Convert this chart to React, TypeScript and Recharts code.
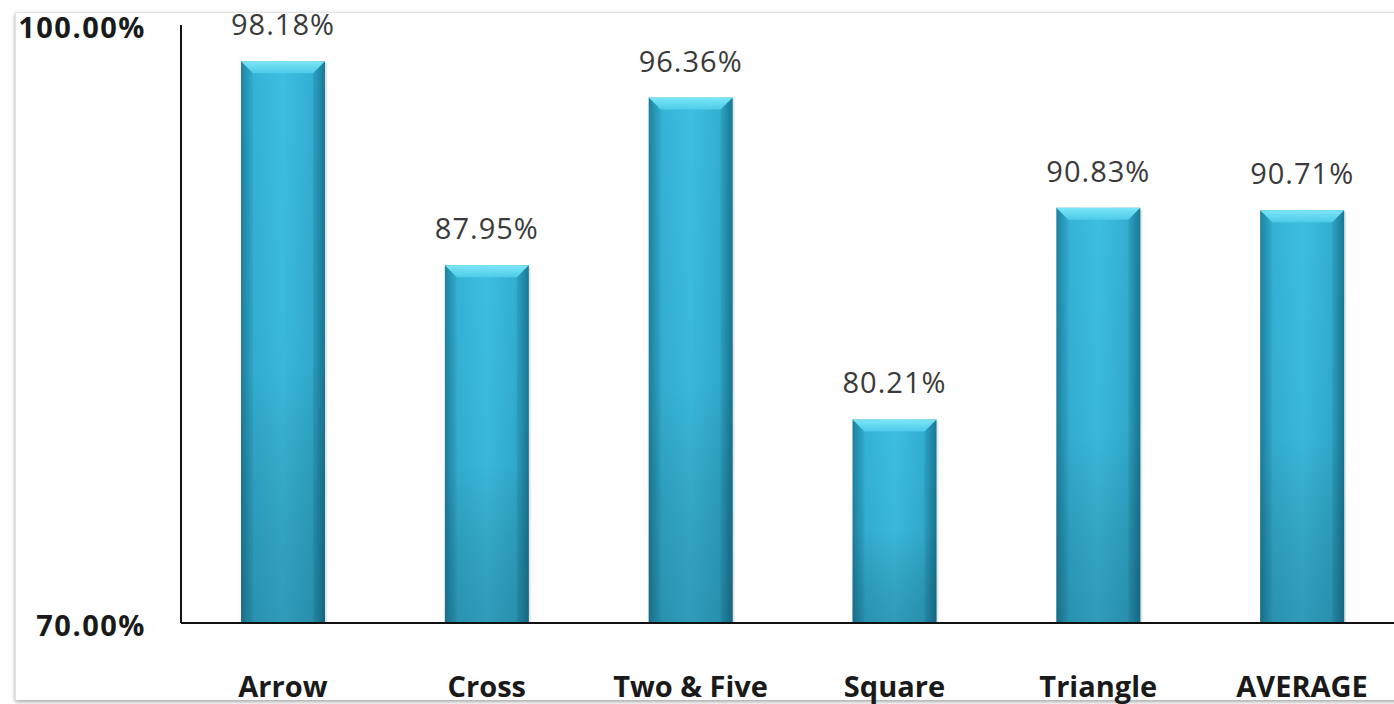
import { Bar, BarChart, XAxis, YAxis, LabelList } from "recharts"

const categories = ["Arrow", "Cross", "Two & Five", "Square", "Triangle", "AVERAGE"]
const accuracy = [98.18, 87.95, 96.36, 80.21, 90.83, 90.71]
const yTicks = [70, 100]

const data = categories.map((name, i) => ({ name, accuracy: accuracy[i] }))

const pct = (v: number) => `${Number(v).toFixed(2)}%`

// bar with a bevelled top, like the old office chart style
function BevelBar(props: any) {
  const { x, y, width, height } = props
  if (!height || height <= 0) return null
  const b = Math.min(12, height / 2)
  return (
    <g>
      <rect x={x + 2} y={y + 2} width={width} height={height - 2} fill="rgba(0,0,0,0.10)" />
      <rect x={x} y={y} width={width} height={height} fill="url(#barSide)" />
      <rect x={x} y={y} width={width} height={height} fill="url(#barShade)" />
      <polygon
        points={`${x},${y} ${x + width},${y} ${x + width - b},${y + b} ${x + b},${y + b}`}
        fill="url(#bevelTop)"
      />
      <polygon points={`${x},${y} ${x + b},${y + b} ${x + b},${y + height} ${x},${y + height}`} fill="rgba(0,40,60,0.05)" />
      <polygon
        points={`${x + width},${y} ${x + width - b},${y + b} ${x + width - b},${y + height} ${x + width},${y + height}`}
        fill="rgba(0,40,60,0.09)"
      />
    </g>
  )
}

export default function App() {
  return (
    <div style={{ position: "absolute", left: 0, top: 0, width: 1394, height: 704, overflow: "hidden", background: "#fff" }}>
      <div
        style={{
          position: "absolute",
          left: 15,
          top: 12,
          width: 1400,
          height: 687,
          borderTop: "1px solid #e2e2e2",
          borderLeft: "1px solid #e2e2e2",
          boxShadow: "0 2px 4px rgba(0,0,0,0.35)",
          background: "#fff",
        }}
      />
      <div style={{ position: "absolute", left: 0, top: 0 }}>
        <BarChart
          width={1404}
          height={704}
          data={data}
          margin={{ top: 25, right: 0, bottom: 0, left: 0 }}
          barSize={84}
        >
          <defs>
            <linearGradient id="barSide" x1="0" y1="0" x2="1" y2="0">
              <stop offset="0%" stopColor="#1f88a6" />
              <stop offset="14%" stopColor="#34b2d6" />
              <stop offset="50%" stopColor="#3cbfe2" />
              <stop offset="86%" stopColor="#32aed2" />
              <stop offset="100%" stopColor="#1c809d" />
            </linearGradient>
            <linearGradient id="barShade" x1="0" y1="0" x2="0" y2="1">
              <stop offset="0%" stopColor="#000" stopOpacity={0} />
              <stop offset="55%" stopColor="#000" stopOpacity={0.04} />
              <stop offset="100%" stopColor="#0a3040" stopOpacity={0.25} />
            </linearGradient>
            <linearGradient id="bevelTop" x1="0" y1="0" x2="0" y2="1">
              <stop offset="0%" stopColor="#7de6f6" />
              <stop offset="100%" stopColor="#4ccbe9" />
            </linearGradient>
          </defs>
          <XAxis
            dataKey="name"
            height={81}
            axisLine={{ stroke: "#111", strokeWidth: 2 }}
            tickLine={false}
            tickSize={0}
            tickMargin={53}
            tick={{ fill: "#1a1a1a", fontSize: 29, fontWeight: 700, fontFamily: "'Open Sans', sans-serif" }}
            interval={0}
          />
          <YAxis
            type="number"
            domain={[70, 100]}
            ticks={yTicks}
            allowDataOverflow
            width={181}
            axisLine={{ stroke: "#111", strokeWidth: 2 }}
            tickLine={false}
            tickSize={0}
            tickMargin={35}
            tickFormatter={pct}
            tick={{ fill: "#1a1a1a", fontSize: 29, fontWeight: 700, letterSpacing: 1.5, fontFamily: "'Open Sans', sans-serif", dy: 3 }}
          />
          <Bar dataKey="accuracy" shape={<BevelBar />} isAnimationActive={false}>
            <LabelList
              dataKey="accuracy"
              position="top"
              offset={26}
              formatter={pct}
              style={{ fill: "#3a3a3a", fontSize: 29, letterSpacing: 1, fontFamily: "'Open Sans', sans-serif" }}
            />
          </Bar>
        </BarChart>
      </div>
    </div>
  )
}
